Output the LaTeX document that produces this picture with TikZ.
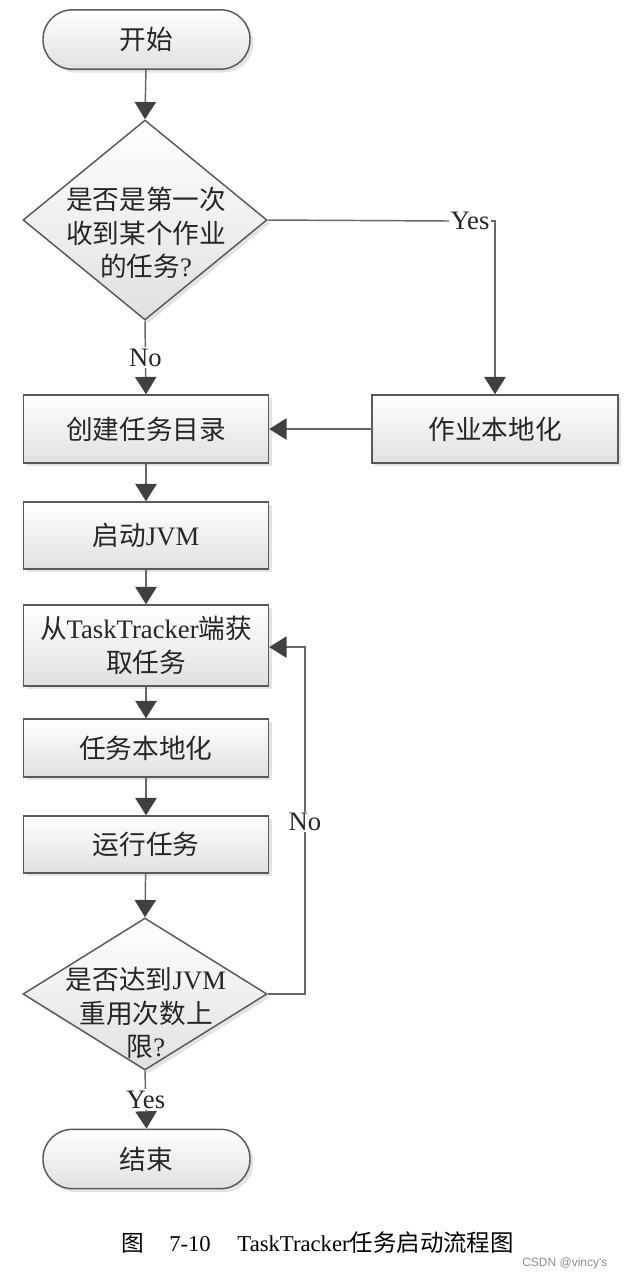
\documentclass[tikz,border=0pt]{standalone}
\usepackage{fontspec}
\setmainfont{Liberation Serif}
\newfontfamily\cjk{Noto Sans CJK SC}
\newfontfamily\wmfont{Liberation Sans}
\usetikzlibrary{shapes.geometric,arrows.meta,shadows}
\newcommand\en[1]{{\rmfamily #1}}
\begin{document}
\begin{tikzpicture}[x=0.75pt,y=-0.75pt,
  every node/.style={text=black!85},
  txt/.style={font=\cjk\fontsize{20pt}{25pt}\selectfont, align=center, inner sep=0pt},
  line/.style={draw=black!60, line width=1.1pt},
  arr/.style={line, -{Triangle[length=13pt,width=16pt,color=black!75]}},
  shapebase/.style={draw=black!65, line width=1.1pt, top color=white, bottom color=black!12,
     drop shadow={shadow xshift=2.5pt, shadow yshift=-2.5pt, opacity=0.22}},
  box/.style={shapebase, rectangle, minimum width=183.75pt, inner sep=0pt,
     font=\cjk\fontsize{20pt}{25pt}\selectfont, align=center},
  term/.style={shapebase, rectangle, rounded corners=22pt, minimum width=155.25pt, minimum height=44.5pt,
     inner sep=0pt, font=\cjk\fontsize{20pt}{25pt}\selectfont},
  dia/.style={shapebase, diamond, inner sep=0pt, minimum width=183pt},
  lbl/.style={fill=white, inner sep=1pt, font=\fontsize{20pt}{24pt}\selectfont}]
\useasboundingbox (0,0) rectangle (626,1272);

% nodes
\node[term] (start) at (146.5,39.5) {开始};
\node[dia, minimum height=150pt] (d1) at (145,220) {};
\node[txt] (d1t) at (146,233) {是否是第一次\\收到某个作业\\的任务\en{?}};
\node[box, minimum height=51pt] (b1) at (146,429) {创建任务目录};
\node[box, minimum width=184.5pt, minimum height=51pt] (b2) at (495,429) {作业本地化};
\node[box, minimum height=50.25pt] (b3) at (146,535.5) {启动\en{JVM}};
\node[box, minimum height=60.75pt] (b4) at (146,645.5) {从\en{TaskTracker}端获\\取任务};
\node[box, minimum height=43.5pt] (b5) at (146,748) {任务本地化};
\node[box, minimum height=42.75pt] (b6) at (146,844.5) {运行任务};
\node[dia, minimum height=114pt] (d2) at (145,994) {};
\node[txt] (d2t) at (146,1013) {是否达到\en{JVM}\\重用次数上\\限\en{?}};
\node[term] (end) at (146.5,1159) {结束};

% connectors
\draw[arr] (start) -- (d1.north);
\node[lbl] (yes1) at (470,221) {Yes};
\draw[line] (d1.east) -- (yes1.west);
\draw[arr] (yes1.east) -| (b2.north);
\draw[arr] (d1.south) -- (b1.north) node[lbl, pos=0.5] {No};
\draw[arr] (b2.west) -- (b1.east);
\draw[arr] (b1) -- (b3);
\draw[arr] (b3) -- (b4);
\draw[arr] (b4) -- (b5);
\draw[arr] (b5) -- (b6);
\draw[arr] (b6) -- (d2.north);
\coordinate (lp) at (305,994);
\draw[arr] (d2.east) -- (lp) |- ([yshift=-1.2pt]b4.east);
\node[lbl] (no2) at (305,822) {No};
\draw[arr] (d2.south) -- (end.north) node[lbl, pos=0.5] {Yes};

% caption
\node[anchor=west, inner sep=0pt, font=\fontsize{17pt}{20pt}\selectfont, text=black] (cap) at (121,1243)
  {{\cjk 图}\hspace*{19pt}7-10\hspace*{20pt}TaskTracker{\cjk\fontsize{17.6pt}{20pt}\selectfont 任务启动流程图}};
\node[anchor=base west, inner sep=0pt, font=\wmfont\fontsize{9pt}{10pt}\selectfont, text=black!45] (wm) at (522,1266) {CSDN @vincy's};
\end{tikzpicture}
\end{document}
